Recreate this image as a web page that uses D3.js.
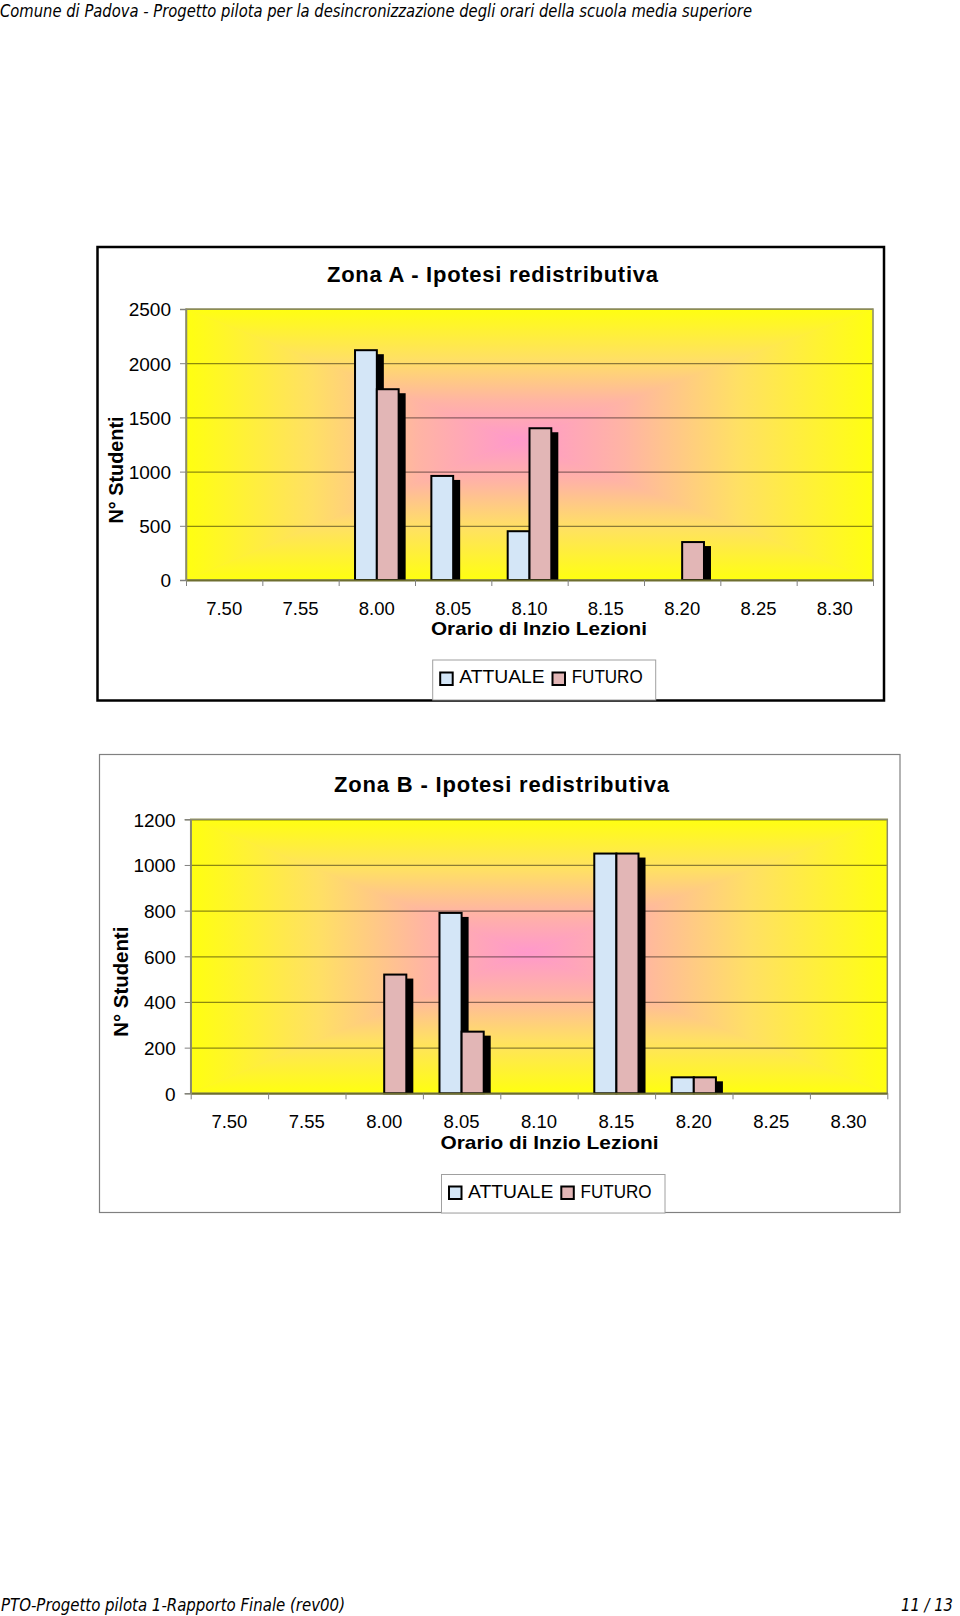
<!DOCTYPE html>
<html>
<head>
<meta charset="utf-8">
<script src="https://cdn.jsdelivr.net/npm/d3@7"></script>
<style>
  html, body { margin: 0; padding: 0; background: #ffffff; }
  svg { display: block; }
</style>
</head>
<body>
<script>
// ---------------- DATA ----------------
const categories = ["7.50", "7.55", "8.00", "8.05", "8.10", "8.15", "8.20", "8.25", "8.30"];
const seriesNames = ["ATTUALE", "FUTURO"];

const zonaA_attuale = [0, 0, 2120, 960, 450, 0, 0, 0, 0];
const zonaA_futuro  = [0, 0, 1760, 0, 1400, 0, 350, 0, 0];
const zonaA_ticks   = [0, 500, 1000, 1500, 2000, 2500];

const zonaB_attuale = [0, 0, 0, 790, 0, 1050, 70, 0, 0];
const zonaB_futuro  = [0, 0, 520, 270, 0, 1050, 70, 0, 0];
const zonaB_ticks   = [0, 200, 400, 600, 800, 1000, 1200];

const headerText = "Comune di Padova - Progetto pilota per la desincronizzazione degli orari della scuola media superiore";
const footerLeft = "PTO-Progetto pilota 1-Rapporto Finale (rev00)";
const footerRight = "11 / 13";
const titleA = "Zona A - Ipotesi redistributiva";
const titleB = "Zona B - Ipotesi redistributiva";
const xTitle = "Orario di Inzio Lezioni";
const yTitle = "N° Studenti";

// ---------------- STYLE ----------------
const W = 960, H = 1616;
const FONT = "'Liberation Sans', Arial, sans-serif";
const seriesFill = ["#d4e6f7", "#e2b6b6"];
const YELLOW = "#ffff10", PINK = "#ff98cc";

const svg = d3.select("body").append("svg").attr("width", W).attr("height", H);
const defs = svg.append("defs");

// header / footer
svg.append("text").attr("x", 0).attr("y", 17)
  .attr("font-family", "'DejaVu Sans', sans-serif").attr("font-style", "italic")
  .attr("font-size", 17).attr("textLength", 752).attr("lengthAdjust", "spacingAndGlyphs")
  .attr("fill", "#000").text(headerText);
svg.append("text").attr("x", 1).attr("y", 1611)
  .attr("font-family", "'DejaVu Sans', sans-serif").attr("font-style", "italic")
  .attr("font-size", 17).attr("textLength", 344).attr("lengthAdjust", "spacingAndGlyphs")
  .attr("fill", "#000").text(footerLeft);
svg.append("text").attr("x", 901).attr("y", 1611)
  .attr("font-family", "'DejaVu Sans', sans-serif").attr("font-style", "italic")
  .attr("font-size", 17).attr("textLength", 52).attr("lengthAdjust", "spacingAndGlyphs")
  .attr("fill", "#000").text(footerRight);

function drawChart(cfg) {
  const g = svg.append("g");
  // outer box
  g.append("rect").attr("x", cfg.box.x).attr("y", cfg.box.y)
    .attr("width", cfg.box.w).attr("height", cfg.box.h)
    .attr("fill", "#fff").attr("stroke", cfg.box.stroke).attr("stroke-width", cfg.box.sw);

  const L = cfg.plot.l, R = cfg.plot.r, T = cfg.plot.t, B = cfg.plot.b;
  const cx = (L + R) / 2 - 12, cy = (T + B) / 2 - 4;

  // rectangular "from center" gradient built from 4 triangles
  const gid = cfg.id;
  const mk = (name, x1, y1, x2, y2) => {
    const lg = defs.append("linearGradient").attr("id", gid + name)
      .attr("gradientUnits", "userSpaceOnUse")
      .attr("x1", x1).attr("y1", y1).attr("x2", x2).attr("y2", y2);
    lg.append("stop").attr("offset", 0).attr("stop-color", YELLOW);
    lg.append("stop").attr("offset", 0.38).attr("stop-color", "#ffe064");
    lg.append("stop").attr("offset", 0.7).attr("stop-color", "#ffb4a4");
    lg.append("stop").attr("offset", 1).attr("stop-color", PINK);
  };
  mk("t", 0, T, 0, cy);
  mk("b", 0, B, 0, cy);
  mk("l", L, 0, cx, 0);
  mk("r", R, 0, cx, 0);
  g.append("rect").attr("x", L).attr("y", T).attr("width", R - L).attr("height", B - T).attr("fill", "#ffd070");
  const tri = (pts, name) => g.append("polygon")
    .attr("points", pts.map(p => p.join(",")).join(" "))
    .attr("fill", `url(#${gid}${name})`).attr("stroke", `url(#${gid}${name})`).attr("stroke-width", 0.6);
  tri([[L, T], [R, T], [cx, cy]], "t");
  tri([[L, B], [R, B], [cx, cy]], "b");
  tri([[L, T], [L, B], [cx, cy]], "l");
  tri([[R, T], [R, B], [cx, cy]], "r");

  // scales
  const x = d3.scaleBand().domain(categories).range([L, R]).paddingInner(1.5 / 3.5).paddingOuter(0.75 / 3.5);
  const xs = d3.scaleBand().domain(seriesNames).range([0, x.bandwidth()]);
  const xb = d3.scaleLinear().domain([0, categories.length]).range([L, R]);
  const y = d3.scaleLinear().domain([0, d3.max(cfg.ticks)]).range([B, T]);

  // gridlines
  g.append("g").attr("transform", `translate(${L},0)`)
    .call(d3.axisLeft(y).tickValues(cfg.ticks.slice(1)).tickSize(-(R - L)).tickFormat(""))
    .call(a => a.select(".domain").remove())
    .call(a => a.selectAll("line").attr("stroke", "#000").attr("stroke-opacity", 0.45).attr("stroke-width", 1.2));

  // plot border
  g.append("rect").attr("x", L).attr("y", T).attr("width", R - L).attr("height", B - T)
    .attr("fill", "none").attr("stroke", "#8a8a70").attr("stroke-width", 1.5);

  // bars
  const seriesData = [cfg.attuale, cfg.futuro];
  seriesData.forEach((vals, si) => {
    const items = categories.map((c, i) => ({ c, v: vals[i] })).filter(d => d.v > 0);
    const bx = d => x(d.c) + xs(seriesNames[si]);
    // shadows
    g.append("g").selectAll("rect").data(items).join("rect")
      .attr("x", d => bx(d) + 7).attr("y", d => y(d.v) + 4)
      .attr("width", xs.bandwidth()).attr("height", d => B - y(d.v) - 4)
      .attr("fill", "#000");
    g.append("g").selectAll("rect").data(items).join("rect")
      .attr("x", d => bx(d)).attr("y", d => y(d.v))
      .attr("width", xs.bandwidth()).attr("height", d => B - y(d.v))
      .attr("fill", seriesFill[si]).attr("stroke", "#000").attr("stroke-width", 2);
  });

  // bottom axis line + tick marks at band boundaries
  g.append("g").attr("transform", `translate(0,${B})`)
    .call(d3.axisBottom(xb).tickValues(d3.range(categories.length + 1)).tickSize(6).tickFormat("").tickSizeOuter(0))
    .call(a => a.select(".domain").attr("stroke", "#6e6e30").attr("stroke-width", 2))
    .call(a => a.selectAll("line").attr("stroke", "#808080").attr("stroke-width", 1));

  // x labels
  g.append("g").attr("transform", `translate(0,${B})`)
    .call(d3.axisBottom(x).tickSize(0).tickPadding(0))
    .call(a => a.select(".domain").remove())
    .call(a => a.selectAll("text").attr("dy", null).attr("y", cfg.xLabelBase - B)
      .attr("font-family", FONT).attr("font-size", 18.5).attr("fill", "#000"));

  // y axis ticks + labels
  g.append("g").attr("transform", `translate(${L},0)`)
    .call(d3.axisLeft(y).tickValues(cfg.ticks).tickSize(6).tickPadding(9).tickFormat(d3.format("d")))
    .call(a => a.select(".domain").attr("stroke", "#8a8a70").attr("stroke-width", 1.5))
    .call(a => a.selectAll("line").attr("stroke", "#808080"))
    .call(a => a.selectAll("text").attr("dy", "0.36em")
      .attr("font-family", FONT).attr("font-size", 19).attr("fill", "#000"));

  // titles
  g.append("text").attr("x", cfg.title.x).attr("y", cfg.title.y)
    .attr("font-family", FONT).attr("font-weight", "bold").attr("font-size", 22)
    .attr("textLength", cfg.title.len).attr("lengthAdjust", "spacing")
    .text(cfg.titleText);
  g.append("text").attr("x", cfg.xt.x).attr("y", cfg.xt.y)
    .attr("font-family", FONT).attr("font-weight", "bold").attr("font-size", 18.6)
    .attr("textLength", cfg.xt.len).attr("lengthAdjust", "spacingAndGlyphs")
    .text(xTitle);
  g.append("text").attr("transform", `translate(${cfg.yt.x},${cfg.yt.y}) rotate(-90)`)
    .attr("text-anchor", "middle")
    .attr("font-family", FONT).attr("font-weight", "bold").attr("font-size", 19.5)
    .attr("textLength", cfg.yt.len).attr("lengthAdjust", "spacingAndGlyphs")
    .text(yTitle);

  // legend
  const lg = cfg.legend;
  g.append("rect").attr("x", lg.x).attr("y", lg.y).attr("width", lg.w).attr("height", lg.h)
    .attr("fill", "#fff").attr("stroke", "#a0a0a0").attr("stroke-width", 1);
  const legX = [{ sw: 7.5, tx: 26.5, len: 85.5 }, { sw: 119.8, tx: 139, len: 71 }];
  seriesNames.forEach((n, i) => {
    g.append("rect").attr("x", lg.x + legX[i].sw).attr("y", lg.y + lg.swY)
      .attr("width", 12.5).attr("height", 12.5)
      .attr("fill", seriesFill[i]).attr("stroke", "#000").attr("stroke-width", 2);
    g.append("text").attr("x", lg.x + legX[i].tx).attr("y", lg.y + lg.base)
      .attr("font-family", FONT).attr("font-size", 18.6)
      .attr("textLength", legX[i].len).attr("lengthAdjust", "spacingAndGlyphs")
      .text(n);
  });
}

drawChart({
  id: "gA",
  box: { x: 97.5, y: 247, w: 786.5, h: 453.5, stroke: "#000", sw: 2.5 },
  plot: { l: 186, r: 873, t: 309, b: 580 },
  ticks: zonaA_ticks, attuale: zonaA_attuale, futuro: zonaA_futuro,
  titleText: titleA, title: { x: 327, y: 281.7, len: 331 },
  xLabelBase: 615,
  xt: { x: 431, y: 635, len: 216 },
  yt: { x: 123, y: 470, len: 107 },
  legend: { x: 432.7, y: 660, w: 223, h: 40, swY: 12.5, base: 23.3 }
});

drawChart({
  id: "gB",
  box: { x: 99.5, y: 754.5, w: 800.5, h: 458, stroke: "#808080", sw: 1.2 },
  plot: { l: 190.7, r: 887.3, t: 819.3, b: 1093.3 },
  ticks: zonaB_ticks, attuale: zonaB_attuale, futuro: zonaB_futuro,
  titleText: titleB, title: { x: 334, y: 791.7, len: 335 },
  xLabelBase: 1128.5,
  xt: { x: 440.5, y: 1149, len: 218 },
  yt: { x: 128, y: 981.7, len: 110 },
  legend: { x: 441.5, y: 1174.5, w: 223.5, h: 38.5, swY: 12, base: 23.5 }
});
</script>
</body>
</html>
